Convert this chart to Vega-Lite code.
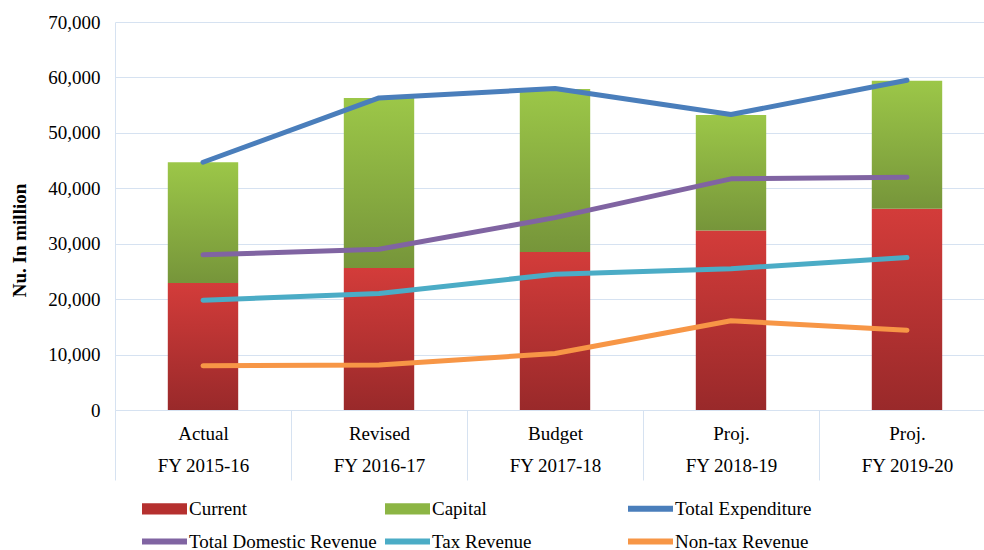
{
  "$schema": "https://vega.github.io/schema/vega-lite/v6.json",
  "width": 880,
  "height": 388,
  "autosize": {"type": "none"},
  "padding": {"left": 115, "top": 22, "right": 0, "bottom": 140},
  "background": "white",
  "config": {"view": {"stroke": null}, "font": "Liberation Serif"},
  "datasets": {
    "bars": [
      {"period": "Actual|FY 2015-16", "series": "Current", "value": 22900},
      {"period": "Actual|FY 2015-16", "series": "Capital", "value": 21800},
      {"period": "Revised|FY 2016-17", "series": "Current", "value": 25600},
      {"period": "Revised|FY 2016-17", "series": "Capital", "value": 30700},
      {"period": "Budget|FY 2017-18", "series": "Current", "value": 28500},
      {"period": "Budget|FY 2017-18", "series": "Capital", "value": 29400},
      {"period": "Proj.|FY 2018-19", "series": "Current", "value": 32400},
      {"period": "Proj.|FY 2018-19", "series": "Capital", "value": 20800},
      {"period": "Proj.|FY 2019-20", "series": "Current", "value": 36300},
      {"period": "Proj.|FY 2019-20", "series": "Capital", "value": 23100}
    ],
    "lines": [
      {"period": "Actual|FY 2015-16", "series": "Total Expenditure", "value": 44700},
      {"period": "Revised|FY 2016-17", "series": "Total Expenditure", "value": 56300},
      {"period": "Budget|FY 2017-18", "series": "Total Expenditure", "value": 58000},
      {"period": "Proj.|FY 2018-19", "series": "Total Expenditure", "value": 53300},
      {"period": "Proj.|FY 2019-20", "series": "Total Expenditure", "value": 59500},
      {"period": "Actual|FY 2015-16", "series": "Total Domestic Revenue", "value": 28000},
      {"period": "Revised|FY 2016-17", "series": "Total Domestic Revenue", "value": 29000},
      {"period": "Budget|FY 2017-18", "series": "Total Domestic Revenue", "value": 34700},
      {"period": "Proj.|FY 2018-19", "series": "Total Domestic Revenue", "value": 41700},
      {"period": "Proj.|FY 2019-20", "series": "Total Domestic Revenue", "value": 42000},
      {"period": "Actual|FY 2015-16", "series": "Tax Revenue", "value": 19800},
      {"period": "Revised|FY 2016-17", "series": "Tax Revenue", "value": 21000},
      {"period": "Budget|FY 2017-18", "series": "Tax Revenue", "value": 24500},
      {"period": "Proj.|FY 2018-19", "series": "Tax Revenue", "value": 25500},
      {"period": "Proj.|FY 2019-20", "series": "Tax Revenue", "value": 27500},
      {"period": "Actual|FY 2015-16", "series": "Non-tax Revenue", "value": 8000},
      {"period": "Revised|FY 2016-17", "series": "Non-tax Revenue", "value": 8100},
      {"period": "Budget|FY 2017-18", "series": "Non-tax Revenue", "value": 10200},
      {"period": "Proj.|FY 2018-19", "series": "Non-tax Revenue", "value": 16100},
      {"period": "Proj.|FY 2019-20", "series": "Non-tax Revenue", "value": 14400}
    ]
  },
  "layer": [
    {
      "data": {"name": "bars"},
      "mark": {"type": "bar", "width": {"band": 0.4}},
      "encoding": {
        "x": {
          "field": "period",
          "type": "nominal",
          "sort": ["Actual|FY 2015-16", "Revised|FY 2016-17", "Budget|FY 2017-18", "Proj.|FY 2018-19", "Proj.|FY 2019-20"],
          "scale": {"paddingInner": 0, "paddingOuter": 0},
          "axis": {
            "title": null,
            "tickBand": "extent",
            "tickSize": 70,
            "tickColor": "#d6e2f1",
            "domainColor": "#d6e2f1",
            "labelAngle": 0,
            "labelFont": "Liberation Serif",
            "labelFontSize": 19,
            "labelColor": "black",
            "labelPadding": -56,
            "labelBaseline": "top",
            "labelLineHeight": 32,
            "labelExpr": "split(datum.label, '|')",
            "labelOverlap": false,
            "labelBound": false,
            "grid": false
          }
        },
        "y": {
          "field": "value",
          "type": "quantitative",
          "stack": "zero",
          "scale": {"domain": [0, 70000], "nice": false},
          "axis": {
            "title": "Nu. In million",
            "titleFont": "Liberation Serif",
            "titleFontSize": 19,
            "titleFontWeight": "bold",
            "titleColor": "black",
            "titleAngle": -90,
            "titleX": -96,
            "titleY": 218,
            "titleAlign": "center",
            "titleBaseline": "middle",
            "labelFont": "Liberation Serif",
            "labelFontSize": 19,
            "labelColor": "black",
            "labelPadding": 15,
            "ticks": false,
            "domainColor": "#d6e2f1",
            "gridColor": "#d6e2f1",
            "format": ",.0f",
            "values": [0, 10000, 20000, 30000, 40000, 50000, 60000, 70000]
          }
        },
        "detail": {"field": "series"},
        "order": {"field": "series", "sort": "descending"},
        "fill": {
          "condition": {
            "test": "datum.series === 'Current'",
            "value": {"gradient": "linear", "x1": 0, "y1": 0, "x2": 0, "y2": 1, "stops": [{"offset": 0, "color": "#d33c3a"}, {"offset": 1, "color": "#99292a"}]}
          },
          "value": {"gradient": "linear", "x1": 0, "y1": 0, "x2": 0, "y2": 1, "stops": [{"offset": 0, "color": "#9cc748"}, {"offset": 1, "color": "#76953a"}]}
        }
      }
    },
    {
      "data": {"name": "lines"},
      "mark": {"type": "line", "strokeWidth": 5, "strokeCap": "round", "strokeJoin": "round"},
      "encoding": {
        "x": {
          "field": "period",
          "type": "nominal",
          "sort": ["Actual|FY 2015-16", "Revised|FY 2016-17", "Budget|FY 2017-18", "Proj.|FY 2018-19", "Proj.|FY 2019-20"]
        },
        "y": {"field": "value", "type": "quantitative"},
        "color": {
          "field": "series",
          "type": "nominal",
          "scale": {
            "domain": ["Current", "Capital", "Total Expenditure", "Total Domestic Revenue", "Tax Revenue", "Non-tax Revenue"],
            "range": ["#b5302f", "#8cb544", "#4a7ebb", "#8064a2", "#4bacc6", "#f79646"]
          },
          "legend": {
            "orient": "none",
            "legendX": 27,
            "legendY": 464,
            "direction": "horizontal",
            "columns": 3,
            "gridAlign": "all",
            "columnPadding": 8,
            "rowPadding": -11,
            "title": null,
            "padding": 0,
            "labelFont": "Liberation Serif",
            "labelFontSize": 19,
            "labelColor": "black",
            "labelOffset": 2,
            "labelLimit": 400,
            "symbolType": "M-1,-0.25H1V0.25H-1Z",
            "symbolSize": 2025,
            "symbolStrokeWidth": 0,
            "symbolOpacity": 1,
            "encode": {
              "symbols": {
                "update": {
                  "shape": {"signal": "datum.value === 'Current' || datum.value === 'Capital' ? 'M-1,-0.25H1V0.25H-1Z' : 'M-1,-0.13H1V0.13H-1Z'"},
                  "fill": {"scale": "color", "field": "value"},
                  "stroke": {"value": "transparent"},
                  "strokeWidth": {"value": 0}
                }
              }
            }
          }
        }
      }
    }
  ]
}
